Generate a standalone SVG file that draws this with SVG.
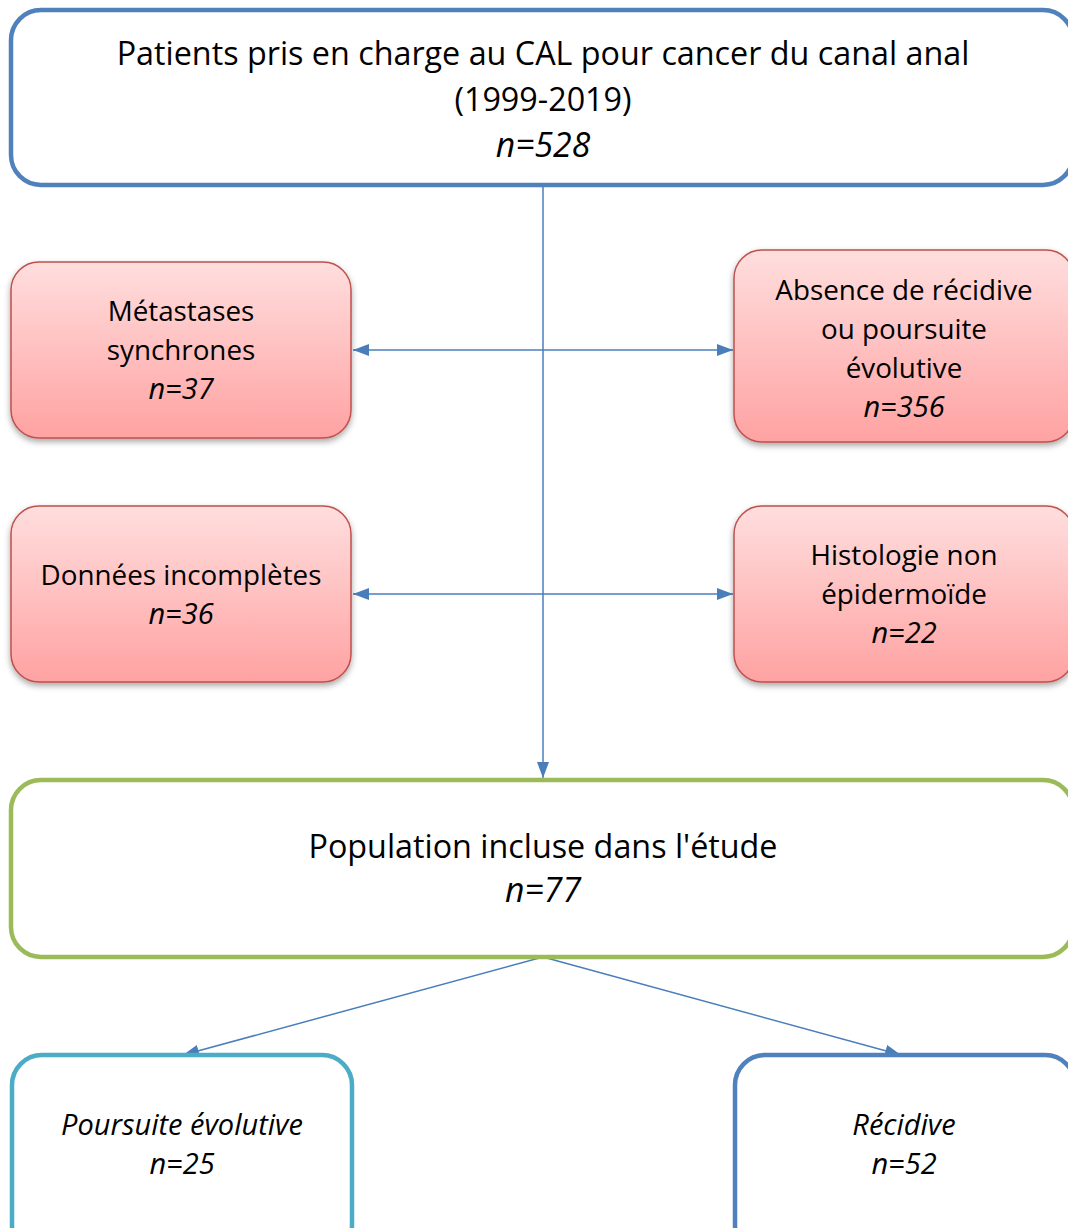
<svg xmlns="http://www.w3.org/2000/svg" width="1068" height="1228" viewBox="0 0 1068 1228">
<style>
text{font-family:"Open Sans","Liberation Sans",sans-serif;fill:#000;text-anchor:middle}
.big{font-size:32.3px}
.bigit{font-size:33.8px;font-style:italic}
.mid{font-size:27.8px}
.midit{font-size:29px;font-style:italic}
.blue{fill:#fff;stroke:#4F81BD;stroke-width:4.5}
.green{fill:#fff;stroke:#9BBB59;stroke-width:4.5}
.cyan{fill:#fff;stroke:#4BACC6;stroke-width:4.5}
.red{fill:url(#rg);stroke:#C0504D;stroke-width:1.5;filter:url(#sh)}
.con{stroke:#4A7EBB;stroke-width:1.5;fill:none}
</style>
<defs>
<linearGradient id="rg" x1="0" y1="0" x2="0" y2="1">
<stop offset="0" stop-color="#FFDEDE"/>
<stop offset="1" stop-color="#FFA2A2"/>
</linearGradient>
<filter id="sh" x="-10%" y="-10%" width="120%" height="130%">
<feDropShadow dx="0" dy="3" stdDeviation="3" flood-color="#000" flood-opacity="0.35"/>
</filter>
<marker id="ah2" viewBox="0 0 16 12" refX="16" refY="6" markerWidth="16" markerHeight="12" markerUnits="userSpaceOnUse" orient="auto-start-reverse">
<path d="M0,0 L16,6 L0,12 z" fill="#4A7EBB"/>
</marker>
</defs>
<g id="connectors">
<line class="con" x1="543" y1="187" x2="543" y2="778" marker-end="url(#ah2)"/>
<line class="con" x1="353" y1="350" x2="733" y2="350" marker-start="url(#ah2)" marker-end="url(#ah2)"/>
<line class="con" x1="353" y1="594" x2="733" y2="594" marker-start="url(#ah2)" marker-end="url(#ah2)"/>
<line class="con" x1="543" y1="957" x2="183" y2="1055" marker-end="url(#ah2)"/>
<line class="con" x1="543" y1="957" x2="901" y2="1055" marker-end="url(#ah2)"/>
</g>
<g id="top">
<rect class="blue" x="11" y="10" width="1062" height="175" rx="30"/>
<text class="big" x="543" y="65">Patients pris en charge au CAL pour cancer du canal anal</text>
<text class="big" x="543" y="111">(1999-2019)</text>
<text class="bigit" x="543" y="157">n=528</text>
</g>
<g id="metastases">
<rect class="red" x="11" y="262" width="340" height="176" rx="28"/>
<text class="mid" x="181" y="321">Métastases</text>
<text class="mid" x="181" y="360">synchrones</text>
<text class="midit" x="181" y="399">n=37</text>
</g>
<g id="absence">
<rect class="red" x="734" y="250" width="340" height="192" rx="28"/>
<text class="mid" x="904" y="300">Absence de récidive</text>
<text class="mid" x="904" y="339">ou poursuite</text>
<text class="mid" x="904" y="378">évolutive</text>
<text class="midit" x="904" y="417">n=356</text>
</g>
<g id="donnees">
<rect class="red" x="11" y="506" width="340" height="176" rx="28"/>
<text class="mid" x="181" y="585">Données incomplètes</text>
<text class="midit" x="181" y="624">n=36</text>
</g>
<g id="histologie">
<rect class="red" x="734" y="506" width="340" height="176" rx="28"/>
<text class="mid" x="904" y="565">Histologie non</text>
<text class="mid" x="904" y="604">épidermoïde</text>
<text class="midit" x="904" y="643">n=22</text>
</g>
<g id="population">
<rect class="green" x="11" y="780" width="1062" height="177" rx="30"/>
<text class="big" x="543" y="858">Population incluse dans l'étude</text>
<text class="bigit" x="543" y="902">n=77</text>
</g>
<g id="poursuite">
<rect class="cyan" x="12" y="1055" width="340" height="200" rx="30"/>
<text class="midit" x="182" y="1135">Poursuite évolutive</text>
<text class="midit" x="182" y="1174">n=25</text>
</g>
<g id="recidive">
<rect class="blue" x="735" y="1055" width="340" height="200" rx="30"/>
<text class="midit" x="904" y="1135">Récidive</text>
<text class="midit" x="904" y="1174">n=52</text>
</g>
</svg>
